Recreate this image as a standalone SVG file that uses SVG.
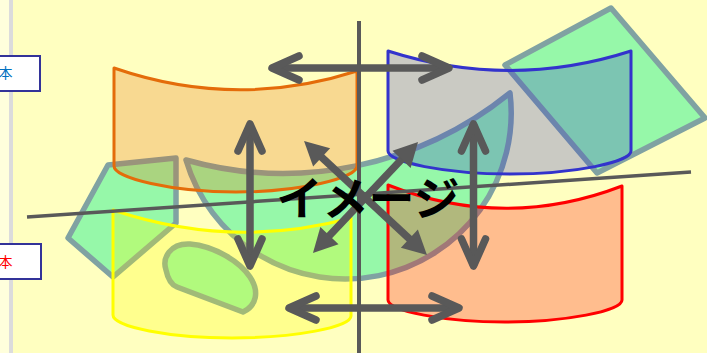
<svg xmlns="http://www.w3.org/2000/svg" width="707" height="353" viewBox="0 0 707 353">
<style>
.shape{fill:#96f8a9;stroke:#80a2a2;stroke-width:5.5;stroke-linejoin:round}
.panel{stroke-width:3;stroke-linejoin:round;fill-opacity:0.26}
.axis{stroke:#595959;fill:none}
.arr{stroke:#595959;stroke-width:7.5;fill:none}
.lbl{font-family:"Noto Sans CJK JP","Noto Sans CJK SC",sans-serif;font-size:14px;text-anchor:middle}
.title{font-family:"Noto Sans CJK JP","Noto Sans CJK SC",sans-serif;font-size:46px;font-weight:bold;text-anchor:middle;fill:#000}
</style>
<defs>
<marker id="chev" markerUnits="userSpaceOnUse" markerWidth="60" markerHeight="60" refX="0" refY="0" orient="auto-start-reverse" overflow="visible" viewBox="-40 -30 60 60">
<path d="M-27,-12 L0,0 L-27,12" fill="none" stroke="#595959" stroke-width="7.5" stroke-linecap="round" stroke-linejoin="round"/>
</marker>
<marker id="tri" markerUnits="userSpaceOnUse" markerWidth="60" markerHeight="60" refX="4" refY="0" orient="auto-start-reverse" overflow="visible" viewBox="-20 -30 60 60">
<path d="M0,-12.5 L24,0 L0,12.5 Z" fill="#595959"/>
</marker>
</defs>
<rect x="0" y="0" width="707" height="353" fill="#ffffc0"/>
<rect x="0" y="0" width="9" height="353" fill="#ffffdc"/>
<rect x="9" y="0" width="4" height="353" fill="#dcdcdc"/>
<g id="box-top">
<rect x="-2" y="56" width="42" height="35" fill="#ffffff" stroke="#333399" stroke-width="2"/>
<text class="lbl" x="5.5" y="78" fill="#0070c0">本</text>
</g>
<g id="box-bottom">
<rect x="-2" y="244" width="43" height="35" fill="#ffffff" stroke="#333399" stroke-width="2"/>
<text class="lbl" x="5.5" y="267" fill="#ff0000">本</text>
</g>
<g id="pentagon"><polygon class="shape" points="108,165 176,158 176,223 113,277 68,238"/></g>
<g id="moon"><path class="shape" d="M186,160 A360,360 0 0 0 510,93 A166,166 0 0 1 186,160 Z"/></g>
<g id="diamond"><polygon class="shape" points="611,8 705,118 597,173 505,65"/></g>
<g id="blob"><path class="shape" d="M177,287 L243,312 C256,306 260,292 250,277 C240,262 215,246 190,244 C170,243 162,258 166,270 C168,280 172,285 177,287 Z"/></g>
<g id="panel-orange"><path class="panel" fill="#e46c0a" stroke="#e46c0a" d="M114,68 Q236,110 357,71 L357,166 C357,178 300,192 236,192 C172,192 114,178 114,166 Z"/></g>
<g id="panel-yellow"><path class="panel" fill="#ffff00" stroke="#ffff00" d="M113,210 Q232,250 351,218 L351,316 C351,327 295,338 232,338 C170,338 113,327 113,315 Z"/></g>
<g id="panel-blue"><path class="panel" fill="#3333cc" fill-opacity="0.23" stroke="#3333cc" d="M388,51 Q510,90 631,51 L631,151 C631,162 575,174 510,174 C445,174 388,162 388,151 Z"/></g>
<g id="panel-red"><path class="panel" fill="#ff0000" stroke="#ff0000" d="M388,185 Q505,231 622,186 L622,300 C622,311 565,322 505,322 C445,322 388,311 388,300 Z"/></g>
<g id="connectors">
<line class="axis" x1="359" y1="21" x2="359" y2="353" stroke-width="4"/>
<line class="axis" x1="27" y1="217" x2="691" y2="172" stroke-width="3.5"/>
<line class="arr" x1="272" y1="68" x2="449" y2="68" marker-start="url(#chev)" marker-end="url(#chev)"/>
<line class="arr" x1="289" y1="308" x2="459" y2="308" marker-start="url(#chev)" marker-end="url(#chev)"/>
<line class="arr" x1="250" y1="124" x2="250" y2="266" marker-start="url(#chev)" marker-end="url(#chev)"/>
<line class="arr" x1="473.5" y1="124" x2="473.5" y2="266" marker-start="url(#chev)" marker-end="url(#chev)"/>
<line class="arr" x1="318.7" y1="154.6" x2="412.3" y2="241.4" marker-start="url(#tri)" marker-end="url(#tri)"/>
<line class="arr" x1="404.3" y1="156.5" x2="326.7" y2="238.5" marker-start="url(#tri)" marker-end="url(#tri)"/>
</g>
<g id="title"><text class="title" x="368" y="215">イメージ</text></g>
</svg>
